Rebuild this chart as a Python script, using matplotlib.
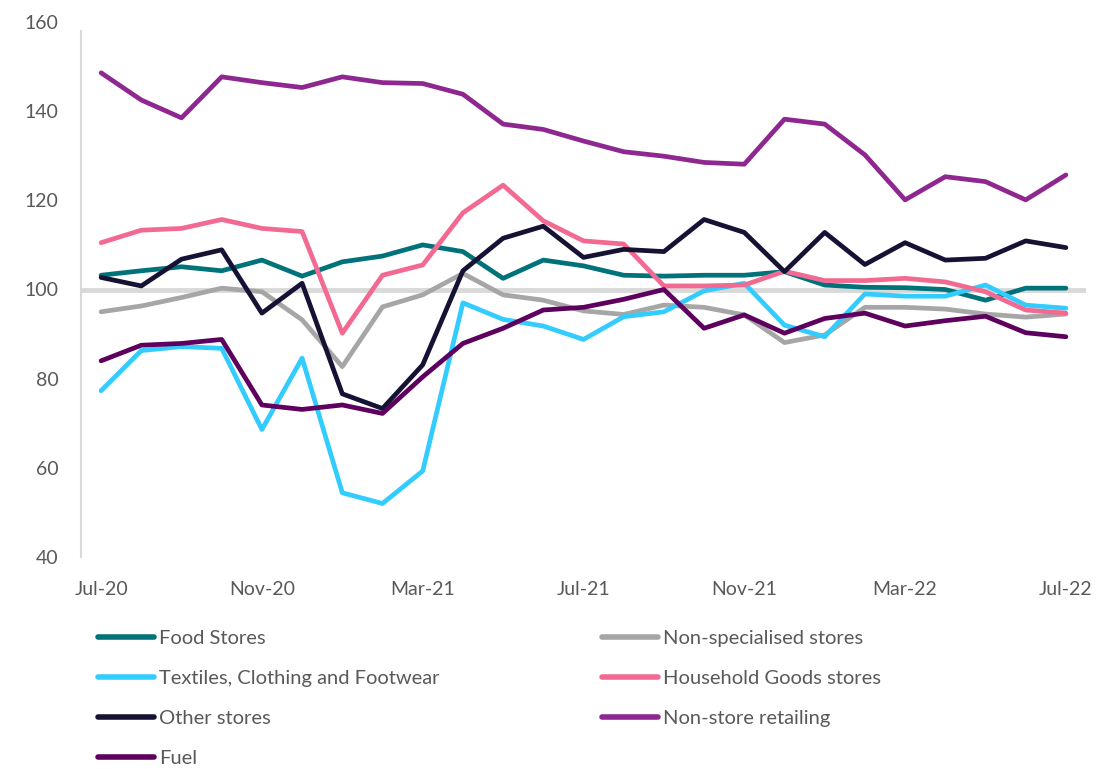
import matplotlib
matplotlib.use("Agg")
import matplotlib.pyplot as plt
from matplotlib.lines import Line2D

plt.rcParams["font.family"] = ["Lato", "DejaVu Sans"]

months = ["Jul-20", "Aug-20", "Sep-20", "Oct-20", "Nov-20", "Dec-20", "Jan-21", "Feb-21",
          "Mar-21", "Apr-21", "May-21", "Jun-21", "Jul-21", "Aug-21", "Sep-21", "Oct-21",
          "Nov-21", "Dec-21", "Jan-22", "Feb-22", "Mar-22", "Apr-22", "May-22", "Jun-22", "Jul-22"]

food = [103.2, 104.2, 105.1, 104.2, 106.6, 103.0, 106.2, 107.5, 110.0, 108.5, 102.5, 106.6,
        105.3, 103.2, 103.0, 103.2, 103.2, 104.0, 101.0, 100.5, 100.4, 100.0, 97.6, 100.3, 100.3]
non_spec = [95.0, 96.3, 98.2, 100.3, 99.5, 93.2, 82.7, 96.1, 98.8, 103.6, 98.8, 97.6,
            95.2, 94.4, 96.5, 96.0, 94.3, 88.1, 89.8, 96.0, 96.0, 95.6, 94.5, 93.8, 94.5]
textiles = [77.3, 86.3, 87.2, 86.8, 68.6, 84.6, 54.4, 52.0, 59.3, 97.0, 93.3, 91.8,
            88.8, 93.9, 95.0, 99.7, 101.4, 92.0, 89.4, 99.0, 98.5, 98.5, 101.0, 96.5, 95.8]
household = [110.5, 113.3, 113.7, 115.7, 113.7, 113.0, 90.2, 103.2, 105.5, 117.2, 123.4, 115.4,
             110.9, 110.2, 100.8, 100.8, 101.0, 104.1, 102.0, 102.0, 102.5, 101.7, 99.5, 95.4, 94.7]
other = [102.7, 100.8, 106.8, 108.9, 94.7, 101.4, 76.6, 73.3, 83.1, 104.2, 111.5, 114.2,
         107.2, 109.0, 108.5, 115.7, 112.8, 104.0, 112.8, 105.6, 110.5, 106.6, 107.0, 110.9, 109.4]
non_store = [148.6, 142.5, 138.5, 147.7, 146.4, 145.3, 147.7, 146.4, 146.2, 143.8, 137.1, 135.9,
             133.3, 130.9, 129.9, 128.5, 128.1, 138.2, 137.1, 130.2, 120.1, 125.3, 124.2, 120.1, 125.7]
fuel = [84.0, 87.5, 87.9, 88.8, 74.1, 73.1, 74.1, 72.2, 80.4, 87.9, 91.3, 95.4,
        96.0, 97.8, 100.0, 91.3, 94.3, 90.2, 93.5, 94.7, 91.8, 93.0, 94.0, 90.3, 89.4]

series = [
    ("Food Stores", food, "#00737A"),
    ("Non-specialised stores", non_spec, "#A6A6A6"),
    ("Textiles, Clothing and Footwear", textiles, "#33CCFF"),
    ("Household Goods stores", household, "#F26A92"),
    ("Other stores", other, "#161233"),
    ("Non-store retailing", non_store, "#8E278F"),
    ("Fuel", fuel, "#5E005E"),
]

text_color = "#595959"

fig = plt.figure(figsize=(10.98, 7.69), dpi=100)
ax = fig.add_axes([81 / 1098, 1 - 557 / 769, (1086 - 81) / 1098, (557 - 22) / 769])

x = list(range(len(months)))
ax.axhline(100, color="#D9D9D9", lw=3.5, zorder=1)

handles = {}
for name, vals, col in series:
    ax.plot(x, vals, color=col, lw=3.4, solid_capstyle="round",
            solid_joinstyle="round", zorder=2, label=name)
    handles[name] = Line2D([], [], color=col, lw=4, solid_capstyle="round")

ax.set_xlim(-0.5, 24.5)
ax.set_ylim(40, 160)
ax.set_yticks([40, 60, 80, 100, 120, 140, 160])
ax.set_xticks(x[::4])
ax.set_xticklabels(months[::4])
ax.tick_params(axis="both", length=0, labelsize=14, colors=text_color)
ax.tick_params(axis="y", pad=16)
ax.tick_params(axis="x", pad=17)

for s in ["top", "right", "bottom"]:
    ax.spines[s].set_visible(False)
ax.spines["left"].set_color("#D9D9D9")
ax.spines["left"].set_linewidth(1.5)
ax.spines["left"].set_bounds(40, 158)

col1 = ["Food Stores", "Textiles, Clothing and Footwear", "Other stores", "Fuel"]
col2 = ["Non-specialised stores", "Household Goods stores", "Non-store retailing"]
for names, xpos in [(col1, 98 / 1098), (col2, 602 / 1098)]:
    leg = fig.legend([handles[n] for n in names], names, loc="upper left",
                     bbox_to_anchor=(xpos, 1 - 630 / 769), frameon=False,
                     fontsize=14.5, handlelength=2.8, handletextpad=0.25,
                     labelspacing=1.13, borderaxespad=0, borderpad=0)
    for t in leg.get_texts():
        t.set_color(text_color)

fig.savefig("out.png", dpi=100)
